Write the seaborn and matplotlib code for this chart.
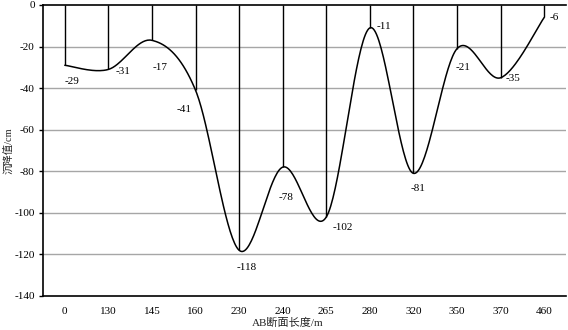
import numpy as np
import pandas as pd
import matplotlib
matplotlib.use("Agg")
import matplotlib.pyplot as plt
import seaborn as sns

# ---- data ----
categories = ["0", "130", "145", "160", "230", "240", "265", "280", "320", "350", "370", "460"]
settlement = [-29, -31, -17, -41, -118, -78, -102, -11, -81, -21, -35, -6]
y_ticks = [0, -20, -40, -60, -80, -100, -120, -140]
x_label = "AB断面长度/m"
y_label = "沉降值/cm"

# label offsets in pixels (dx, dy) - styling only
label_offsets = [(7, -16), (15, -2), (8, -27), (-11, -19), (8, -17), (3, -30),
                 (16, -10), (14, 1), (5, -15), (6, -19), (12, -1), (10, 0)]

sns.set_theme(style="white")
serif = ["Liberation Serif", "Noto Sans CJK SC", "DejaVu Sans"]
plt.rcParams["font.family"] = serif

fig = plt.figure(figsize=(5.68, 3.30), dpi=100)
ax = fig.add_axes([43 / 568, 1 - 296 / 330, (566 - 43) / 568, (296 - 5) / 330])

xs = np.arange(len(categories), dtype=float)
ys = np.array(settlement, dtype=float)

# Excel-like smoothing (Catmull-Rom Bezier) for rendering the curve
def smooth(xv, yv, n=40):
    P = np.column_stack([xv, yv])
    Pp = np.vstack([P[0], P, P[-1]])
    out = []
    for i in range(len(P) - 1):
        p0, p1, p2, p3 = Pp[i], Pp[i + 1], Pp[i + 2], Pp[i + 3]
        c1 = p1 + (p2 - p0) / 6.0
        c2 = p2 - (p3 - p1) / 6.0
        t = np.linspace(0, 1, n)[:, None]
        seg = ((1 - t) ** 3) * p1 + 3 * ((1 - t) ** 2) * t * c1 + 3 * (1 - t) * t ** 2 * c2 + t ** 3 * p2
        out.append(seg if i == 0 else seg[1:])
    return np.vstack(out)

curve = smooth(xs, ys)
df = pd.DataFrame({"x": curve[:, 0], "y": curve[:, 1], "order": np.arange(len(curve))})

# gridlines
for yt in y_ticks[1:-1]:
    ax.axhline(yt, color="#a6a6a6", lw=1.0, zorder=1)

ax.vlines(xs, ys, 0, color="black", lw=1.0, zorder=2)
sns.lineplot(data=df, x="x", y="y", sort=False, estimator=None, color="black", lw=1.1, ax=ax, zorder=3)

for x, v, (dx, dy) in zip(xs, settlement, label_offsets):
    ax.annotate(str(v), (x, v), xytext=(dx * 0.72, dy * 0.72), textcoords="offset points",
                ha="center", va="center", fontsize=8, family=serif, color="black")

ax.set_xlim(-0.5, len(categories) - 0.5)
ax.set_ylim(-140, 0)
ax.set_xticks(xs)
ax.set_xticklabels(categories)
ax.set_yticks(y_ticks)
ax.set_yticklabels([str(t) for t in y_ticks])
ax.tick_params(axis="y", length=3, width=1, direction="out", left=True, labelsize=8, pad=3, colors="black")
ax.tick_params(axis="x", length=0, labelsize=8, pad=8, colors="black")
ax.set_xlabel(x_label, fontsize=8, family=serif)
ax.set_ylabel(y_label, fontsize=7.5, family=serif)
ax.xaxis.set_label_coords(0.468, -0.075)
ax.yaxis.set_label_coords(-0.056, 0.5)

for s in ["left", "bottom", "top"]:
    ax.spines[s].set_visible(True)
    ax.spines[s].set_color("black")
    ax.spines[s].set_linewidth(1.2)
ax.spines["right"].set_visible(False)
ax.grid(False)

fig.savefig("out.png", dpi=100)
